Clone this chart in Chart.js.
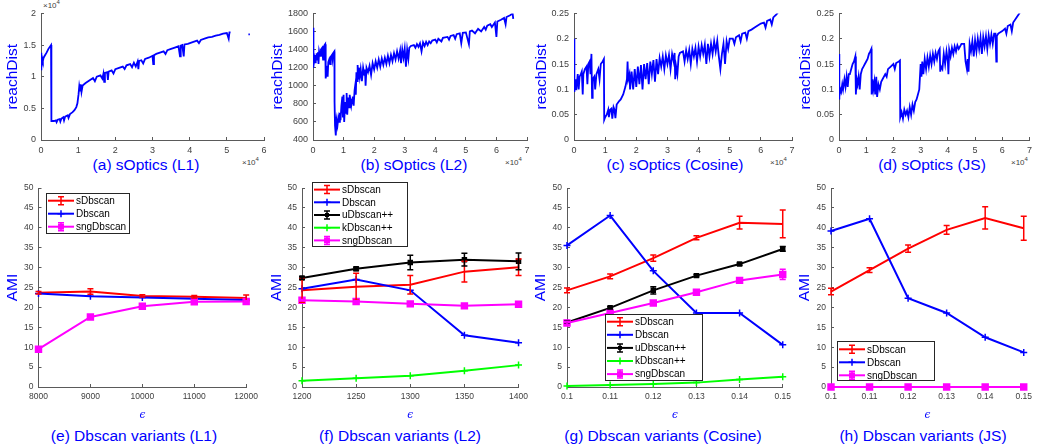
<!DOCTYPE html>
<html>
<head>
<meta charset="utf-8">
<script src="https://cdn.jsdelivr.net/npm/chart.js@4.4.0/dist/chart.umd.min.js"></script>
<style>
  body { margin: 0; background: #fff; }
  #fig { position: relative; width: 1040px; height: 448px; overflow: hidden; font-family: 'Liberation Sans', Arial, sans-serif; }
  #fig canvas { position: absolute; }
  .cap { position: absolute; color: #0000ff; font-size: 15.5px; line-height: 18px; white-space: nowrap; transform: translateX(-50%); }
  .exp { position: absolute; color: #404040; font-size: 8px; line-height: 10px; white-space: nowrap; }
  .exp span { position: relative; top: -4px; font-size: 6px; }
</style>
</head>
<body>
<div id="fig">
  <div class="cap" style="left:146px; top:156px">(a) sOptics (L1)</div>
  <div class="cap" style="left:414px; top:156px">(b) sOptics (L2)</div>
  <div class="cap" style="left:675px; top:156px">(c) sOptics (Cosine)</div>
  <div class="cap" style="left:932px; top:156px">(d) sOptics (JS)</div>
  <div class="cap" style="left:134px; top:427px">(e) Dbscan variants (L1)</div>
  <div class="cap" style="left:400px; top:427px">(f) Dbscan variants (L2)</div>
  <div class="cap" style="left:663px; top:427px">(g) Dbscan variants (Cosine)</div>
  <div class="cap" style="left:923px; top:427px">(h) Dbscan variants (JS)</div>
  <div class="exp" style="left:43px; top:1px">&times;10<span>4</span></div>
  <div class="exp" style="left:242px; top:158px">&times;10<span>4</span></div>
  <div class="exp" style="left:505px; top:158px">&times;10<span>4</span></div>
  <div class="exp" style="left:770px; top:158px">&times;10<span>4</span></div>
  <div class="exp" style="left:1011px; top:158px">&times;10<span>4</span></div>
</div>
<script>
// sOptics reachability plots, x in 1e4 points
const optL1 = [[0,1.38],[0.003,1.1],[0.006,1.35],[0.01,1.15],[0.02,1.22],[0.03,1.3],[0.05,1.25],[0.07,1.3],[0.1,1.33],[0.15,1.38],[0.2,1.44],[0.27,1.5],
  [0.275,0.98],[0.28,0.94],[0.285,0.3],[0.35,0.3],[0.4,0.31],[0.42,0.28],[0.45,0.32],[0.5,0.33],[0.52,0.29],[0.55,0.34],[0.6,0.36],[0.62,0.31],[0.65,0.37],
  [0.72,0.39],[0.74,0.35],[0.78,0.41],[0.85,0.44],[0.9,0.47],[0.95,0.52],[0.98,0.58],[1.01,0.72],[1.03,0.85],[1.05,0.78],[1.07,0.88],[1.09,0.76],[1.12,0.86],
  [1.2,0.9],[1.3,0.94],[1.4,0.98],[1.45,0.93],[1.5,1.0],[1.6,1.02],[1.65,0.97],[1.68,1.05],[1.7,0.92],[1.72,1.06],[1.78,1.07],[1.8,0.95],[1.82,1.08],
  [1.9,1.1],[1.95,1.05],[2.0,1.12],[2.1,1.14],[2.2,1.16],[2.25,1.12],[2.3,1.18],[2.4,1.2],[2.45,1.15],[2.5,1.22],[2.55,1.16],[2.6,1.24],[2.62,1.12],[2.64,1.25],
  [2.7,1.26],[2.75,1.21],[2.8,1.28],[2.9,1.3],[3.0,1.33],[3.02,1.2],[3.04,1.34],[3.1,1.36],[3.2,1.38],[3.3,1.4],[3.35,1.36],[3.4,1.42],[3.5,1.44],[3.6,1.46],
  [3.7,1.48],[3.74,1.32],[3.76,1.49],[3.8,1.5],[3.84,1.32],[3.86,1.51],[3.95,1.52],[4.1,1.55],[4.2,1.57],[4.25,1.53],[4.3,1.58],[4.4,1.6],[4.5,1.62],[4.6,1.63],
  [4.7,1.65],[4.8,1.66],[4.9,1.68],[5.0,1.69],[5.05,1.6],[5.07,1.7],[5.1,1.7],[5.3,null],[5.58,1.67],[5.62,1.67]];

const optL2 = [[0,1640],[0.005,1200],[0.01,1240],[0.03,1220],[0.05,1300],[0.07,1260],[0.09,1340],[0.1,1290],[0.12,1360],[0.14,1310],[0.16,1370],[0.18,1240],
  [0.2,1380],[0.23,1330],[0.26,1400],[0.3,1420],[0.33,1290],[0.35,1430],[0.38,1450],[0.4,1460],[0.41,1120],[0.42,1080],[0.44,1150],[0.46,1220],[0.48,1100],
  [0.5,1260],[0.53,1290],[0.56,1240],[0.58,1320],[0.62,1340],[0.64,1290],[0.66,1360],[0.7,1380],[0.705,820],[0.72,560],[0.74,600],[0.75,450],[0.77,620],
  [0.8,560],[0.83,650],[0.86,600],[0.88,700],[0.9,620],[0.93,780],[0.96,880],[0.98,650],[1.0,900],[1.02,600],[1.05,820],[1.08,700],[1.1,920],[1.12,680],
  [1.15,870],[1.18,760],[1.2,900],[1.25,780],[1.28,850],[1.3,880],[1.33,780],[1.36,950],[1.38,1000],[1.4,900],[1.42,1150],[1.44,1050],[1.46,1230],[1.48,1080],
  [1.5,1200],[1.53,1100],[1.56,1180],[1.6,1050],[1.64,1200],[1.68,1120],[1.7,1180],[1.72,1000],[1.75,1200],[1.8,1150],[1.85,1220],[1.9,1120],[1.95,1250],
  [2.0,1180],[2.05,1270],[2.1,1200],[2.15,1290],[2.2,1210],[2.25,1300],[2.3,1230],[2.35,1310],[2.4,1240],[2.45,1330],[2.5,1250],[2.55,1340],[2.6,1270],
  [2.65,1360],[2.7,1290],[2.75,1380],[2.8,1300],[2.85,1390],[2.88,1250],[2.92,1400],[2.96,1310],[3.0,1410],[3.04,1210],[3.08,1400],[3.12,1300],[3.15,1420],
  [3.2,1440],[3.3,1450],[3.35,1420],[3.4,1460],[3.45,1430],[3.5,1470],[3.55,1380],[3.6,1480],[3.65,1440],[3.7,1485],[3.75,1450],[3.8,1490],[3.85,1470],
  [3.9,1500],[4.0,1510],[4.05,1480],[4.1,1520],[4.2,1490],[4.25,1530],[4.4,1540],[4.45,1510],[4.5,1550],[4.6,1560],[4.65,1520],[4.7,1570],[4.8,1580],
  [4.85,1470],[4.9,1585],[5.0,1590],[5.1,1460],[5.13,1600],[5.2,1610],[5.3,1580],[5.4,1630],[5.5,1600],[5.6,1650],[5.65,1620],[5.7,1665],[5.8,1680],
  [5.85,1650],[5.95,1700],[6.0,1540],[6.03,1710],[6.15,1730],[6.25,1750],[6.3,1680],[6.33,1760],[6.45,1780],[6.53,1800],[6.55,1740]];

const optCos = [[0,0.2],[0.005,0.095],[0.02,0.12],[0.04,0.1],[0.06,0.12],[0.09,0.11],[0.12,0.13],[0.15,0.1],[0.18,0.125],[0.22,0.13],[0.25,0.135],[0.28,0.09],
  [0.3,0.13],[0.35,0.14],[0.4,0.145],[0.43,0.11],[0.46,0.15],[0.5,0.155],[0.53,0.13],[0.56,0.17],[0.58,0.083],[0.6,0.12],[0.65,0.125],[0.68,0.1],[0.72,0.13],
  [0.78,0.14],[0.82,0.12],[0.86,0.15],[0.92,0.155],[0.96,0.16],[0.97,0.04],[1.0,0.045],[1.05,0.05],[1.1,0.06],[1.12,0.045],[1.16,0.06],[1.2,0.062],[1.23,0.042],
  [1.27,0.065],[1.3,0.06],[1.33,0.043],[1.37,0.07],[1.45,0.077],[1.5,0.08],[1.58,0.09],[1.65,0.105],[1.7,0.12],[1.72,0.155],[1.74,0.12],[1.78,0.13],[1.8,0.1],
  [1.85,0.135],[1.9,0.1],[1.95,0.14],[2.0,0.105],[2.05,0.145],[2.1,0.11],[2.15,0.148],[2.2,0.1],[2.25,0.15],[2.3,0.12],[2.35,0.152],[2.4,0.11],[2.45,0.155],
  [2.5,0.13],[2.55,0.158],[2.6,0.115],[2.65,0.16],[2.7,0.13],[2.75,0.162],[2.8,0.145],[2.85,0.165],[2.9,0.14],[2.95,0.167],[3.0,0.15],[3.05,0.168],[3.1,0.14],
  [3.15,0.17],[3.2,0.155],[3.23,0.172],[3.25,0.12],[3.28,0.145],[3.32,0.13],[3.36,0.165],[3.4,0.172],[3.5,0.175],[3.55,0.155],[3.6,0.177],[3.65,0.16],
  [3.7,0.178],[3.75,0.15],[3.8,0.18],[3.85,0.165],[3.9,0.182],[3.95,0.155],[4.0,0.184],[4.05,0.165],[4.1,0.187],[4.15,0.17],[4.2,0.188],[4.25,0.15],[4.3,0.19],
  [4.35,0.165],[4.4,0.19],[4.45,0.17],[4.5,0.195],[4.55,0.175],[4.6,0.196],[4.65,0.165],[4.7,0.14],[4.75,0.17],[4.8,0.19],[4.85,0.15],[4.9,0.195],[4.95,0.18],
  [5.0,0.2],[5.1,0.2],[5.15,0.19],[5.2,0.203],[5.3,0.207],[5.35,0.195],[5.4,0.21],[5.5,0.212],[5.55,0.2],[5.6,0.215],[5.7,0.218],[5.8,0.222],[5.9,0.226],
  [6.0,0.23],[6.1,0.232],[6.15,0.222],[6.2,0.235],[6.3,0.238],[6.35,0.228],[6.4,0.242],[6.5,0.248],[6.55,0.252]];

const optJS = [[0,0.17],[0.005,0.08],[0.02,0.085],[0.05,0.1],[0.08,0.095],[0.12,0.11],[0.15,0.1],[0.2,0.12],[0.24,0.105],[0.28,0.125],[0.32,0.105],[0.36,0.13],
  [0.4,0.13],[0.45,0.14],[0.5,0.15],[0.55,0.155],[0.6,0.165],[0.62,0.09],[0.65,0.12],[0.68,0.11],[0.72,0.125],[0.76,0.1],[0.8,0.13],[0.85,0.14],[0.9,0.145],
  [0.95,0.15],[1.0,0.155],[1.05,0.16],[1.1,0.17],[1.15,0.175],[1.19,0.18],[1.2,0.09],[1.23,0.12],[1.26,0.1],[1.3,0.115],[1.33,0.09],[1.37,0.125],[1.4,0.085],
  [1.45,0.11],[1.5,0.1],[1.55,0.115],[1.6,0.12],[1.7,0.13],[1.75,0.125],[1.8,0.14],[1.9,0.145],[2.0,0.15],[2.05,0.14],[2.1,0.152],[2.2,0.155],[2.24,0.157],
  [2.25,0.045],[2.3,0.055],[2.35,0.042],[2.4,0.06],[2.45,0.05],[2.5,0.058],[2.55,0.045],[2.6,0.065],[2.65,0.05],[2.7,0.07],[2.75,0.058],[2.8,0.075],[2.85,0.08],
  [2.9,0.09],[2.95,0.1],[3.0,0.15],[3.03,0.125],[3.06,0.155],[3.1,0.13],[3.15,0.16],[3.2,0.14],[3.25,0.163],[3.3,0.145],[3.35,0.167],[3.4,0.15],[3.45,0.17],
  [3.5,0.155],[3.55,0.172],[3.6,0.16],[3.65,0.175],[3.7,0.18],[3.72,0.135],[3.75,0.145],[3.8,0.14],[3.85,0.17],[3.9,0.15],[3.95,0.175],[4.0,0.155],[4.02,0.13],
  [4.05,0.178],[4.1,0.165],[4.15,0.182],[4.2,0.17],[4.25,0.185],[4.3,0.175],[4.35,0.187],[4.4,0.18],[4.5,0.19],[4.6,0.19],[4.65,0.155],[4.7,0.14],[4.73,0.16],
  [4.76,0.135],[4.8,0.19],[4.85,0.175],[4.9,0.195],[4.95,0.165],[5.0,0.197],[5.05,0.175],[5.1,0.2],[5.15,0.18],[5.2,0.202],[5.25,0.17],[5.3,0.203],[5.35,0.185],
  [5.4,0.205],[5.45,0.18],[5.5,0.207],[5.55,0.19],[5.6,0.208],[5.65,0.19],[5.7,0.21],[5.75,0.21],[5.78,0.155],[5.8,0.205],[5.85,0.21],[5.9,0.212],[6.0,0.215],
  [6.1,0.22],[6.15,0.21],[6.2,0.225],[6.3,0.228],[6.35,0.215],[6.4,0.232],[6.5,0.24],[6.6,0.248],[6.65,0.252]];

// Dbscan variants, AMI vs epsilon
const epsL1 = [8000, 9000, 10000, 11000, 12000];
const sDbscanL1 = [23.7, 24.0, 22.9, 22.7, 22.4];
const sDbscanL1Err = [0.3, 0.7, 0.3, 0.3, 0.7];
const dbscanL1 = [23.5, 22.8, 22.5, 22.2, 21.9];
const sngDbscanL1 = [9.5, 17.6, 20.3, 21.4, 21.5];
const sngDbscanL1Err = [0.2, 0.2, 0.2, 0.2, 0.2];

const epsL2 = [1200, 1250, 1300, 1350, 1400];
const sDbscanL2 = [24.3, 25.2, 25.7, 29.0, 30.1];
const sDbscanL2Err = [3.0, 3.4, 2.3, 2.6, 2.1];
const dbscanL2 = [24.7, 27.0, 24.3, 13.0, 11.1];
const uDbscanL2 = [27.4, 29.7, 31.3, 32.0, 31.6];
const uDbscanL2Err = [0.3, 0.4, 1.8, 1.6, 2.1];
const kDbscanL2 = [1.6, 2.2, 2.8, 4.1, 5.5];
const sngDbscanL2 = [21.8, 21.5, 20.9, 20.4, 20.8];
const sngDbscanL2Err = [0.2, 0.2, 0.2, 0.2, 0.2];

const epsCos = [0.1, 0.11, 0.12, 0.13, 0.14, 0.15];
const sDbscanCos = [24.3, 27.8, 32.4, 37.5, 41.3, 41.0];
const sDbscanCosErr = [0.6, 0.6, 0.8, 0.5, 1.6, 3.5];
const dbscanCos = [35.6, 43.1, 29.2, 18.6, 18.6, 10.6];
const uDbscanCos = [16.2, 19.9, 24.3, 28.0, 30.9, 34.7];
const uDbscanCosErr = [0.3, 0.3, 0.9, 0.3, 0.3, 0.6];
const kDbscanCos = [0.25, 0.5, 0.75, 1.1, 1.9, 2.6];
const sngDbscanCos = [16.1, 18.6, 21.1, 23.8, 26.8, 28.3];
const sngDbscanCosErr = [0.3, 0.3, 0.3, 0.3, 0.3, 1.3];

const epsJS = [0.1, 0.11, 0.12, 0.13, 0.14, 0.15];
const sDbscanJS = [24.0, 29.4, 34.8, 39.5, 42.5, 39.9];
const sDbscanJSErr = [0.8, 0.6, 0.9, 1.1, 2.8, 3.0];
const dbscanJS = [39.2, 42.3, 22.3, 18.6, 12.5, 8.7];
const sngDbscanJS = [0, 0, 0, 0, 0, 0];
const sngDbscanJSErr = [0, 0, 0, 0, 0, 0];

Chart.defaults.font.family = "'Liberation Sans', Arial, sans-serif";
Chart.defaults.animation = false;

const axisGray = '#5a5a5a';
const tickGray = '#404040';
const blueText = '#0000ff';

// vertical error bars with caps
const errorBars = {
    id: 'errorBars',
    afterDatasetsDraw(chart) {
        const ctx = chart.ctx;
        const xs = chart.scales.x, ys = chart.scales.y;
        chart.data.datasets.forEach(ds => {
            if (!ds.err) return;
            ctx.save();
            ctx.strokeStyle = ds.borderColor;
            ctx.lineWidth = 1.5;
            ds.data.forEach((pt, j) => {
                const e = ds.err[j];
                if (!e) return;
                const px = xs.getPixelForValue(pt.x);
                const t = ys.getPixelForValue(pt.y + e);
                const b = ys.getPixelForValue(pt.y - e);
                ctx.beginPath();
                ctx.moveTo(px, t); ctx.lineTo(px, b);
                ctx.moveTo(px - 3, t); ctx.lineTo(px + 3, t);
                ctx.moveTo(px - 3, b); ctx.lineTo(px + 3, b);
                ctx.stroke();
            });
            ctx.restore();
        });
    }
};

function drawMarker(ctx, ds, x, y) {
    if (ds.pointStyle === 'rect' && ds.pointRadius) {
        const s = ds.pointRadius * Math.SQRT1_2;
        ctx.fillStyle = ds.borderColor;
        ctx.fillRect(x - s, y - s, 2 * s, 2 * s);
    } else if (ds.pointStyle === 'cross' && ds.pointRadius) {
        const r = ds.pointRadius;
        ctx.lineWidth = 1.5;
        ctx.beginPath();
        ctx.moveTo(x - r, y); ctx.lineTo(x + r, y);
        ctx.moveTo(x, y - r); ctx.lineTo(x, y + r);
        ctx.stroke();
    }
}

// matlab style legend box inside the axes
const boxLegend = {
    id: 'boxLegend',
    afterDatasetsDraw(chart, args, o) {
        if (!o || !o.box) return;
        const ctx = chart.ctx;
        const [bx, by, bw, bh] = o.box;
        ctx.save();
        ctx.fillStyle = '#fff';
        ctx.fillRect(bx, by, bw, bh);
        ctx.strokeStyle = '#262626';
        ctx.lineWidth = 1;
        ctx.strokeRect(bx + 0.5, by + 0.5, bw, bh);
        ctx.font = "10px 'Liberation Sans', Arial, sans-serif";
        ctx.textBaseline = 'middle';
        chart.data.datasets.forEach((ds, i) => {
            const y = by + o.first + i * o.step;
            ctx.strokeStyle = ds.borderColor;
            ctx.lineWidth = 2;
            ctx.beginPath();
            ctx.moveTo(bx + 2, y); ctx.lineTo(bx + 28, y);
            ctx.stroke();
            const mx = bx + 15;
            if (ds.err) {
                ctx.lineWidth = 1.5;
                ctx.beginPath();
                ctx.moveTo(mx, y - 4); ctx.lineTo(mx, y + 4);
                ctx.moveTo(mx - 3, y - 4); ctx.lineTo(mx + 3, y - 4);
                ctx.moveTo(mx - 3, y + 4); ctx.lineTo(mx + 3, y + 4);
                ctx.stroke();
            }
            drawMarker(ctx, ds, mx, y);
            ctx.fillStyle = '#000';
            ctx.fillText(ds.label, bx + 30, y + 0.5);
        });
        ctx.restore();
    }
};

const fmt = v => String(Number(v.toFixed(4)));

function axisOpts(r, size) {
    return {
        type: 'linear', min: r[0], max: r[1],
        ticks: { stepSize: r[2], color: tickGray, font: { size: size }, padding: 8, callback: fmt, maxRotation: 0, autoSkip: false },
        grid: { drawOnChartArea: false, drawTicks: true, tickLength: -3, color: axisGray },
        border: { display: true, color: axisGray, width: 1 }
    };
}

function makePanel(p) {
    const [bx, by, bw, bh] = p.box;
    const [pl, pt, pr, pb] = p.plot;
    const cv = document.createElement('canvas');
    cv.width = bw;
    cv.height = bh;
    cv.style.left = bx + 'px';
    cv.style.top = by + 'px';
    document.getElementById('fig').appendChild(cv);

    const xs = axisOpts(p.xr, p.tickSize);
    xs.afterFit = s => { s.height = by + bh - pb; };
    if (p.xTitle) {
        xs.title = { display: true, text: p.xTitle, color: blueText, padding: 0,
            font: { size: 10.5, style: 'italic', family: "'DejaVu Serif', serif" } };
    }
    const ys = axisOpts(p.yr, p.tickSize);
    ys.afterFit = s => { s.width = pl - bx; };
    ys.title = { display: true, text: p.yTitle, color: blueText, padding: 0, font: { size: 15.5 } };

    let legend = false;
    if (p.legend) {
        const [lx, ly, lw, lh, first, step] = p.legend;
        legend = { box: [lx - bx, ly - by, lw, lh], first: first, step: step };
    }

    return new Chart(cv, {
        type: 'line',
        data: { datasets: p.datasets },
        options: {
            responsive: false,
            animation: false,
            layout: { padding: { left: 0, top: pt - by, right: bx + bw - pr, bottom: 0 } },
            scales: { x: xs, y: ys },
            plugins: { legend: { display: false }, tooltip: { enabled: false }, boxLegend: legend }
        },
        plugins: [errorBars, boxLegend]
    });
}

function reach(points) {
    return [{
        data: points.map(([x, y]) => ({ x: x, y: y })),
        borderColor: '#0000ff', borderWidth: 1.8, pointRadius: 0, fill: false, spanGaps: false
    }];
}

function series(label, xs, ys, color, style, radius, err, idx) {
    return {
        label: label,
        data: xs.map((x, i) => ({ x: x, y: ys[i] })),
        err: err,
        borderColor: color, backgroundColor: color, borderWidth: 2,
        pointStyle: style || 'circle', pointRadius: style ? radius : 0,
        pointBorderWidth: 1.5, pointHoverRadius: 0, clip: 8, order: -idx
    };
}

const topRow = [9.5, 140];
const bottomRow = [186.7, 387];

makePanel({ box: [3, 0, 275, 175], plot: [41, topRow[0], 264, topRow[1]], xr: [0, 6, 1], yr: [0, 2, 0.5],
    tickSize: 9, yTitle: 'reachDist', datasets: reach(optL1) });
makePanel({ box: [268, 0, 273, 175], plot: [313, topRow[0], 527, topRow[1]], xr: [0, 7, 1], yr: [400, 1800, 200],
    tickSize: 9, yTitle: 'reachDist', datasets: reach(optL2) });
makePanel({ box: [532, 0, 274, 175], plot: [574, topRow[0], 792, topRow[1]], xr: [0, 7, 1], yr: [0, 0.25, 0.05],
    tickSize: 9, yTitle: 'reachDist', datasets: reach(optCos) });
makePanel({ box: [796, 0, 244, 175], plot: [839, topRow[0], 1033, topRow[1]], xr: [0, 7, 1], yr: [0, 0.25, 0.05],
    tickSize: 9, yTitle: 'reachDist', datasets: reach(optJS) });

makePanel({ box: [3, 175, 263, 247], plot: [38.5, bottomRow[0], 252, bottomRow[1]], xr: [8000, 12000, 1000], yr: [0, 50, 5],
    tickSize: 8.5, yTitle: 'AMI', xTitle: '\u03f5', legend: [46, 193, 83, 40, 7.7, 13],
    datasets: [
        series('sDbscan', epsL1, sDbscanL1, '#ff0000', null, 0, sDbscanL1Err, 0),
        series('Dbscan', epsL1, dbscanL1, '#0000ff', 'cross', 3.5, null, 1),
        series('sngDbscan', epsL1, sngDbscanL1, '#ff00ff', 'rect', 4.2, sngDbscanL1Err, 2)
    ] });
makePanel({ box: [267, 175, 269, 247], plot: [302, bottomRow[0], 520, bottomRow[1]], xr: [1200, 1400, 50], yr: [0, 50, 5],
    tickSize: 8.5, yTitle: 'AMI', xTitle: '\u03f5', legend: [312, 182, 95, 64, 7.6, 12.7],
    datasets: [
        series('sDbscan', epsL2, sDbscanL2, '#ff0000', null, 0, sDbscanL2Err, 0),
        series('Dbscan', epsL2, dbscanL2, '#0000ff', 'cross', 3.5, null, 1),
        series('uDbscan++', epsL2, uDbscanL2, '#000000', 'rect', 2.8, uDbscanL2Err, 2),
        series('kDbscan++', epsL2, kDbscanL2, '#00ff00', 'cross', 3.5, null, 3),
        series('sngDbscan', epsL2, sngDbscanL2, '#ff00ff', 'rect', 4.2, sngDbscanL2Err, 4)
    ] });
makePanel({ box: [531, 175, 268, 247], plot: [567, bottomRow[0], 785, bottomRow[1]], xr: [0.1, 0.15, 0.01], yr: [0, 50, 5],
    tickSize: 8.5, yTitle: 'AMI', xTitle: '\u03f5', legend: [605, 314, 97, 66, 7.7, 13.1],
    datasets: [
        series('sDbscan', epsCos, sDbscanCos, '#ff0000', null, 0, sDbscanCosErr, 0),
        series('Dbscan', epsCos, dbscanCos, '#0000ff', 'cross', 3.5, null, 1),
        series('uDbscan++', epsCos, uDbscanCos, '#000000', 'rect', 2.8, uDbscanCosErr, 2),
        series('kDbscan++', epsCos, kDbscanCos, '#00ff00', 'cross', 3.5, null, 3),
        series('sngDbscan', epsCos, sngDbscanCos, '#ff00ff', 'rect', 4.2, sngDbscanCosErr, 4)
    ] });
makePanel({ box: [795, 175, 245, 247], plot: [831, bottomRow[0], 1033, bottomRow[1]], xr: [0.1, 0.15, 0.01], yr: [0, 50, 5],
    tickSize: 8.5, yTitle: 'AMI', xTitle: '\u03f5', legend: [837, 341, 97, 39, 8.3, 13],
    datasets: [
        series('sDbscan', epsJS, sDbscanJS, '#ff0000', null, 0, sDbscanJSErr, 0),
        series('Dbscan', epsJS, dbscanJS, '#0000ff', 'cross', 3.5, null, 1),
        series('sngDbscan', epsJS, sngDbscanJS, '#ff00ff', 'rect', 4.2, sngDbscanJSErr, 2)
    ] });
</script>
</body>
</html>
